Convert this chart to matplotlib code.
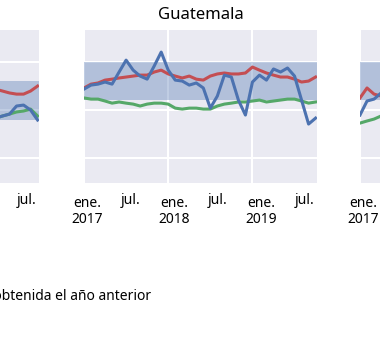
import numpy as np
import matplotlib
matplotlib.use("Agg")
import matplotlib.pyplot as plt
from matplotlib.lines import Line2D

plt.rcParams['font.family'] = ['Noto Sans', 'DejaVu Sans']

# month index 0 = ene. 2017 ... 33 = oct. 2019
months = np.arange(34)

# Guatemala (centre panel)
gt_infl = [3.59, 3.80, 3.85, 3.96, 3.85, 4.48, 5.10, 4.58, 4.27, 4.11, 4.79, 5.52,
           4.58, 4.06, 4.01, 3.80, 3.91, 3.65, 2.60, 3.23, 4.32, 4.22, 3.02, 2.24,
           3.96, 4.32, 4.06, 4.64, 4.48, 4.69, 4.27, 3.02, 1.77, 2.08]
gt_expect = [3.65, 3.85, 3.91, 4.06, 4.11, 4.17, 4.22, 4.27, 4.32, 4.32, 4.48, 4.58,
             4.38, 4.27, 4.17, 4.27, 4.11, 4.06, 4.27, 4.38, 4.43, 4.38, 4.38, 4.43,
             4.74, 4.58, 4.43, 4.32, 4.22, 4.22, 4.11, 3.96, 4.01, 4.22]
gt_prev = [3.13, 3.07, 3.07, 2.97, 2.86, 2.92, 2.86, 2.81, 2.71, 2.81, 2.86, 2.86,
           2.81, 2.60, 2.55, 2.60, 2.60, 2.55, 2.55, 2.71, 2.81, 2.86, 2.92, 2.92,
           2.97, 3.02, 2.92, 2.97, 3.02, 3.07, 3.07, 2.97, 2.86, 2.92]
gt_band = (3.0, 5.0)

# left panel, only the last months are visible
left_months = np.arange(27, 34)
left_infl = [2.08, 2.19, 2.29, 2.71, 2.76, 2.50, 1.98]
left_expect = [3.59, 3.49, 3.39, 3.33, 3.33, 3.49, 3.75]
left_prev = [2.08, 2.19, 2.29, 2.40, 2.45, 2.55, 2.19]
left_band = (2.0, 4.0)

# right panel, only the first months are visible
right_months = np.arange(0, 4)
right_infl = [2.24, 2.97, 3.07, 3.39]
right_expect = [3.13, 3.65, 3.33, 3.23]
right_prev = [1.82, 1.93, 2.03, 2.19]
right_band = (3.0, 5.0)

ene_pos = [0.5, 12.9, 25.3]
ene_labels = ['ene.\n2017', 'ene.\n2018', 'ene.\n2019']
jul_pos = [6.7, 19.1, 31.5]
jul_labels = ['jul.', 'jul.', 'jul.']

blue = '#4c72b0'
red = '#c44e52'
green = '#55a868'

fig = plt.figure(figsize=(3.8, 3.52), dpi=100)

W = 233 / 380
B = 1 - 183 / 352
H = 153 / 352
lefts = [-194 / 380, 84 / 380, 360 / 380]

panels = [
    (left_months, left_infl, left_expect, left_prev, left_band, None),
    (months, gt_infl, gt_expect, gt_prev, gt_band, 'Guatemala'),
    (right_months, right_infl, right_expect, right_prev, right_band, None),
]

for x0, (x, infl, expect, prev, band, title) in zip(lefts, panels):
    ax = fig.add_axes([x0, B, W, H])
    ax.set_facecolor('#eaeaf2')
    for s in ax.spines.values():
        s.set_visible(False)
    ax.set_axisbelow(True)
    ax.axhspan(band[0], band[1], color=blue, alpha=0.35, lw=0)
    ax.plot(x, prev, color=green, lw=2.2)
    ax.plot(x, expect, color=red, lw=2.2)
    ax.plot(x, infl, color=blue, lw=2.2)
    ax.set_xlim(0, 33.2)
    ax.set_ylim(-1.3, 6.67)
    ax.set_xticks([0, 12, 24])
    ax.set_yticks([0, 2.5, 5.0])
    ax.tick_params(length=0, labelbottom=False, labelleft=False)
    ax.grid(True, color='white', lw=1.5)

    sec = ax.secondary_xaxis('bottom')
    sec.spines['bottom'].set_visible(False)
    sec.set_xticks(ene_pos, labels=ene_labels)
    sec.set_xticks(jul_pos, labels=jul_labels, minor=True)
    sec.tick_params(which='major', length=0, pad=9.5, labelsize=10)
    sec.tick_params(which='minor', length=0, pad=7, labelsize=10)
    for lab in sec.get_xticklabels():
        lab.set_linespacing(1.1)
    if title:
        ax.set_title(title, fontsize=12, pad=8)

handle = Line2D([], [], color=green, lw=2.2)
fig.legend([handle], ['Tasa de inflación obtenida el año anterior'],
           loc='center right', bbox_to_anchor=(157 / 380, 1 - 297 / 352),
           borderaxespad=0, frameon=False, fontsize=10)

fig.savefig('out.png', dpi=100)
